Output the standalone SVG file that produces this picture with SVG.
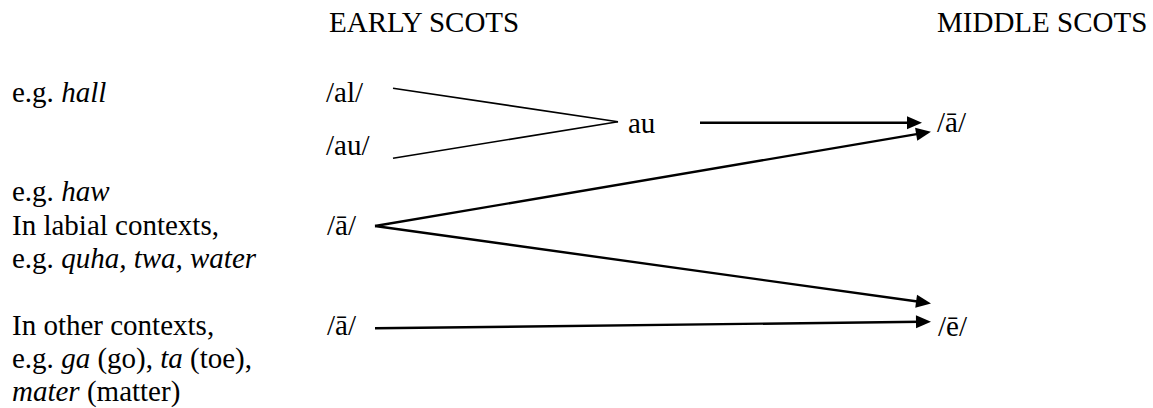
<svg xmlns="http://www.w3.org/2000/svg" width="1153" height="408" viewBox="0 0 1153 408">
  <style>
    text { font-family: "Liberation Serif", "Times New Roman", serif; font-size: 29px; fill: #000; }
    .i { font-style: italic; }
    .thin { stroke: #000; stroke-width: 1.6; fill: none; }
    .arr { stroke: #000; stroke-width: 2.4; fill: none; marker-end: url(#ah); }
  </style>
  <defs>
    <marker id="ah" markerUnits="userSpaceOnUse" markerWidth="16" markerHeight="14" refX="5" refY="6.5" orient="auto" overflow="visible">
      <path d="M0,0 L15,6.5 L0,13 Z" fill="#000"/>
    </marker>
  </defs>
  <rect width="1153" height="408" fill="#fff"/>

  <g id="headers">
    <text x="329" y="32">EARLY SCOTS</text>
    <text x="937" y="32">MIDDLE SCOTS</text>
  </g>

  <g id="labels">
    <text x="12" y="102">e.g. <tspan class="i">hall</tspan></text>
    <text x="12" y="201">e.g. <tspan class="i">haw</tspan></text>
    <text x="12" y="235">In labial contexts,</text>
    <text x="12" y="268">e.g. <tspan class="i">quha, twa, water</tspan></text>
    <text x="12" y="335">In other contexts,</text>
    <text x="12" y="368">e.g. <tspan class="i">ga</tspan> (go), <tspan class="i">ta</tspan> (toe),</text>
    <text x="12" y="401"><tspan class="i">mater</tspan> (matter)</text>
  </g>

  <g id="node-al"><text x="326" y="102">/al/</text></g>
  <g id="node-au"><text x="326" y="155">/au/</text></g>
  <g id="node-a-labial"><text x="327" y="235">/ā/</text></g>
  <g id="node-a-other"><text x="327" y="335">/ā/</text></g>
  <g id="node-au-mid"><text x="628" y="133">au</text></g>
  <g id="node-a-middle"><text x="937" y="132">/ā/</text></g>
  <g id="node-e-middle"><text x="938" y="336">/ē/</text></g>

  <g id="connectors">
    <line class="thin" x1="393" y1="88.3" x2="618" y2="121.7"/>
    <line class="thin" x1="393" y1="158.3" x2="618" y2="121.7"/>
    <line class="arr" x1="700" y1="122.7" x2="912" y2="122.7"/>
    <line class="arr" x1="375" y1="226" x2="921.1" y2="133.4"/>
    <line class="arr" x1="375" y1="226" x2="921.1" y2="302"/>
    <line class="arr" x1="375" y1="328.3" x2="921" y2="321.8"/>
  </g>
</svg>
